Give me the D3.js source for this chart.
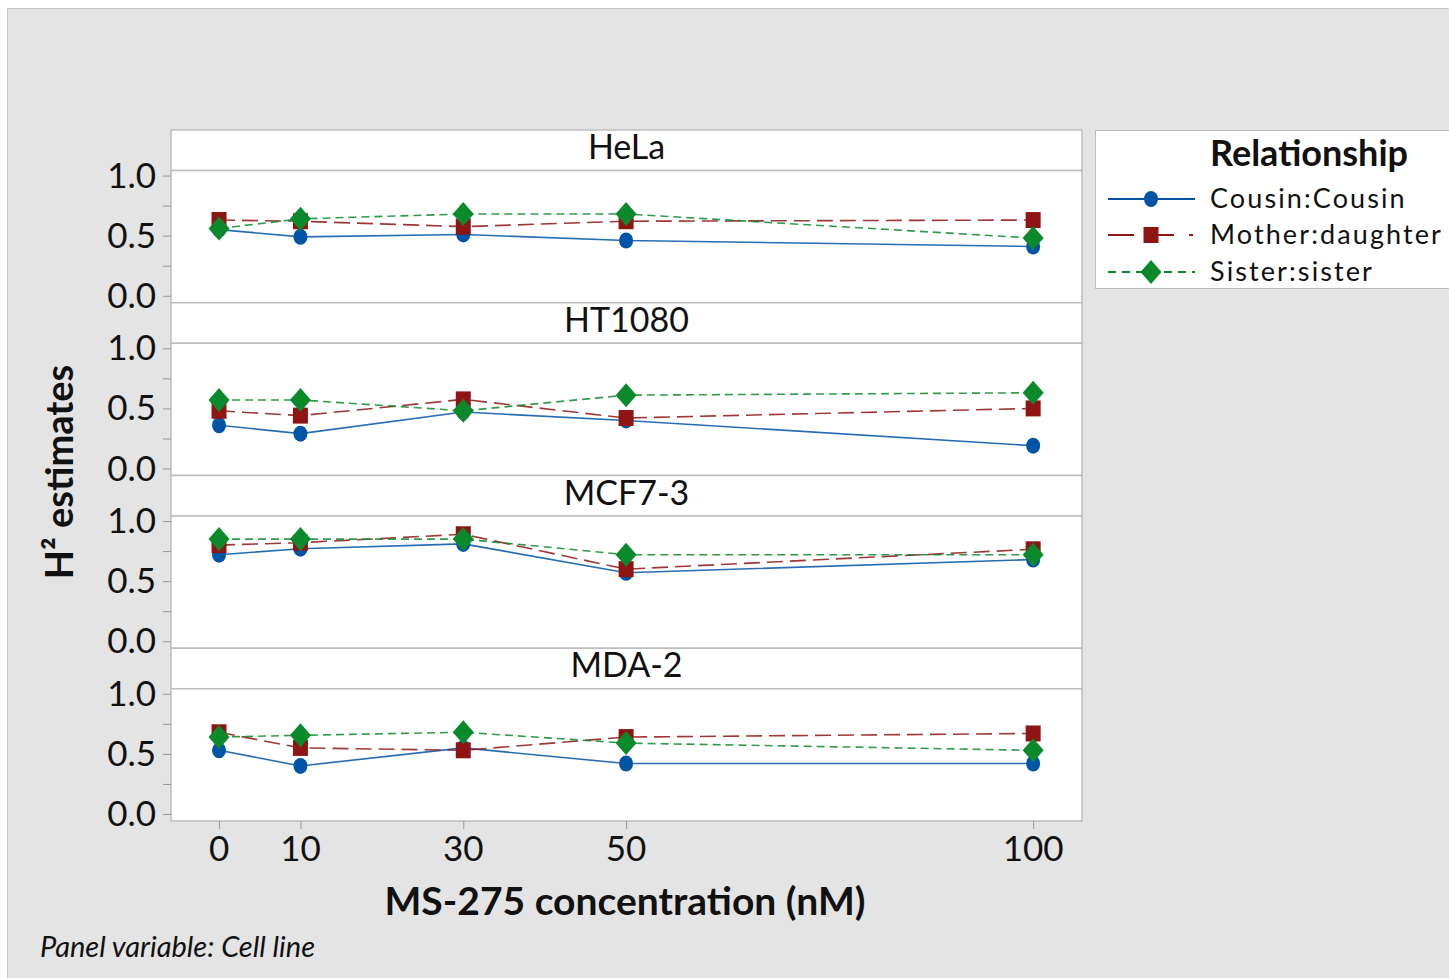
<!DOCTYPE html>
<html>
<head>
<meta charset="utf-8">
<script src="https://cdn.jsdelivr.net/npm/d3@7"></script>
<style>
  body { margin: 0; background: #fff; }
  svg { display: block; font-family: Lato, "Open Sans", sans-serif; }
</style>
</head>
<body>
<div class="svg-container"></div>
<script>
// concentrations (nM)
const doses = [0, 10, 30, 50, 100];
const cellLines = ["HeLa", "HT1080", "MCF7-3", "MDA-2"];
const relationships = ["Cousin:Cousin", "Mother:daughter", "Sister:sister"];

// H2 estimates, one row per cell line, values per dose
const cousin = [
  [0.55, 0.49, 0.51, 0.46, 0.41],
  [0.36, 0.29, 0.47, 0.40, 0.19],
  [0.72, 0.77, 0.81, 0.57, 0.68],
  [0.53, 0.40, 0.55, 0.42, 0.42]
];
const motherDaughter = [
  [0.63, 0.62, 0.575, 0.62, 0.63],
  [0.48, 0.44, 0.575, 0.42, 0.50],
  [0.80, 0.82, 0.89, 0.60, 0.765],
  [0.68, 0.55, 0.53, 0.64, 0.67]
];
const sisterSister = [
  [0.56, 0.64, 0.68, 0.68, 0.48],
  [0.57, 0.57, 0.48, 0.61, 0.63],
  [0.85, 0.85, 0.85, 0.72, 0.72],
  [0.64, 0.655, 0.68, 0.59, 0.53]
];
const yTicks = [0, 0.25, 0.5, 0.75, 1.0];
const yLabels = [0, 0.5, 1.0];

const seriesValues = [cousin, motherDaughter, sisterSister];
const colors = ["#0054a6", "#8f1414", "#0b8a2c"];
const dashes = [null, "16,7", "8,5"];

// marker shapes (Minitab style: tall circle, square, wide diamond)
const markerPaths = [
  "M0,-8A7,8 0 1,1 0,8A7,8 0 1,1 0,-8Z",
  "M-7.5,-8H7.5V8H-7.5Z",
  "M0,-12L10.5,0L0,12L-10.5,0Z"
];

const W = 1449, H = 978;
const svg = d3.select("div.svg-container").append("svg")
  .attr("width", W).attr("height", H);

// grey background
svg.append("rect")
  .attr("x", 7.5).attr("y", 8.5).attr("width", W).attr("height", H)
  .attr("fill", "#e4e4e4").attr("stroke", "#c8c8c8");

const left = 171, right = 1082;
const top0 = 130, panelH = 172.75, stripH = 40.5;
const plotH = panelH - stripH;

const x = d3.scaleLinear().domain([-5.9, 106]).range([left, right]);

cellLines.forEach((cell, p) => {
  const pt = top0 + p * panelH;
  const plotTop = pt + stripH;
  const y = d3.scaleLinear().domain([-0.058, 1.042]).range([plotTop + plotH, plotTop]);
  const g = svg.append("g");

  // strip + plot boxes
  g.append("rect").attr("x", left).attr("y", pt).attr("width", right - left).attr("height", stripH)
    .attr("fill", "#fff").attr("stroke", "#bdbdbd").attr("stroke-width", 1.5);
  g.append("rect").attr("x", left).attr("y", plotTop).attr("width", right - left).attr("height", plotH)
    .attr("fill", "#fff").attr("stroke", "#bdbdbd").attr("stroke-width", 1.5);

  g.append("text")
    .attr("x", (left + right) / 2).attr("y", pt + 29)
    .attr("text-anchor", "middle").attr("font-size", 34).attr("fill", "#111")
    .text(cell);

  // y axis
  const ya = g.append("g").attr("transform", `translate(${left},0)`)
    .call(d3.axisLeft(y).tickValues(yTicks).tickSize(8).tickFormat(""));
  ya.select(".domain").remove();
  ya.selectAll("line").attr("stroke", "#9a9a9a");
  g.selectAll(".ylab").data(yLabels).join("text")
    .attr("x", 156).attr("y", d => y(d) + 12)
    .attr("text-anchor", "end").attr("font-size", 35).attr("fill", "#111")
    .text(d => d3.format(".1f")(d));

  // series
  seriesValues.forEach((vals, s) => {
    const pts = doses.map((d, i) => [d, vals[p][i]]);
    g.append("path")
      .attr("d", d3.line().x(d => x(d[0])).y(d => y(d[1]))(pts))
      .attr("fill", "none").attr("stroke", colors[s]).attr("stroke-width", 1.6)
      .attr("stroke-opacity", 0.85)
      .attr("stroke-dasharray", dashes[s]);
  });
  seriesValues.forEach((vals, s) => {
    g.selectAll(null).data(doses.map((d, i) => [d, vals[p][i]])).join("path")
      .attr("transform", d => `translate(${x(d[0])},${y(d[1])})`)
      .attr("d", markerPaths[s])
      .attr("fill", colors[s]);
  });
});

// x axis
const bottom = top0 + 4 * panelH;
const xa = svg.append("g").attr("transform", `translate(0,${bottom})`)
  .call(d3.axisBottom(x).tickValues(doses).tickSize(8).tickFormat(""));
xa.select(".domain").remove();
xa.selectAll("line").attr("stroke", "#9a9a9a");
svg.selectAll(".xlab").data(doses).join("text")
  .attr("x", d => x(d)).attr("y", bottom + 40)
  .attr("text-anchor", "middle").attr("font-size", 35).attr("fill", "#111")
  .text(d => d);

svg.append("text")
  .attr("x", 625).attr("y", 915)
  .attr("text-anchor", "middle").attr("font-size", 39).attr("font-weight", "bold").attr("fill", "#111")
  .text("MS-275 concentration (nM)");

svg.append("text")
  .attr("transform", "translate(73,472) rotate(-90)")
  .attr("text-anchor", "middle").attr("font-size", 38).attr("font-weight", "bold").attr("fill", "#111")
  .text("H² estimates");

svg.append("text")
  .attr("x", 40).attr("y", 957)
  .attr("font-size", 29).attr("font-style", "italic").attr("fill", "#111")
  .text("Panel variable: Cell line");

// legend
const lg = svg.append("g");
lg.append("rect").attr("x", 1095.5).attr("y", 130.5).attr("width", 370).attr("height", 158)
  .attr("fill", "#fff").attr("stroke", "#bdbdbd");
lg.append("text").attr("x", 1210).attr("y", 166)
  .attr("font-size", 36).attr("font-weight", "bold").attr("fill", "#111")
  .text("Relationship");
const legendY = [199, 235, 272];
relationships.forEach((r, s) => {
  lg.append("line").attr("x1", 1108).attr("x2", 1195).attr("y1", legendY[s]).attr("y2", legendY[s])
    .attr("stroke", colors[s]).attr("stroke-width", 2)
    .attr("stroke-dasharray", s === 1 ? "26,18,22,15,4" : dashes[s] ? "8,6" : null);
  lg.append("path")
    .attr("transform", `translate(1151,${legendY[s]})`)
    .attr("d", markerPaths[s])
    .attr("fill", colors[s]);
  lg.append("text").attr("x", 1210).attr("y", legendY[s] + 9)
    .attr("font-size", 27).attr("letter-spacing", 2.1).attr("fill", "#111")
    .text(r);
});
</script>
</body>
</html>
